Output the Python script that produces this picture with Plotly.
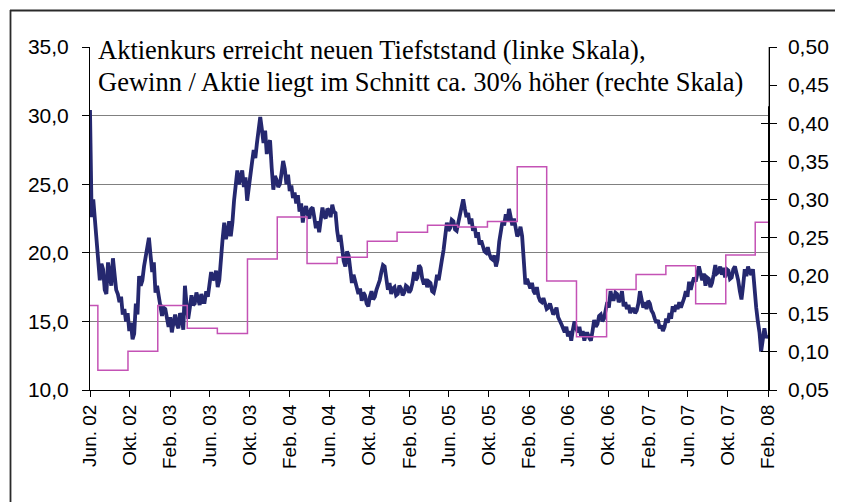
import plotly.graph_objects as go
import pandas as pd

# ---------------- data ----------------
# share price (left scale), every 5 days starting 2002-06-01
price_start = "2002-06-01"
price_step = "5D"
price_values = [
    30.4, 22.6, 23.9, 22.4, 21.0, 19.3, 18.0, 19.2, 18.8, 17.3,
    17.0, 19.3, 18.5, 17.6, 19.6, 18.3, 17.3, 17.0, 16.4, 16.8,
    15.5, 15.9, 15.0, 15.6, 14.3, 14.9, 13.7, 14.1, 16.3, 15.5,
    18.3, 17.6, 18.0, 19.0, 19.8, 20.3, 21.1, 19.8, 18.6, 19.3,
    17.1, 17.6, 16.6, 16.1, 15.4, 16.0, 15.9, 15.2, 14.6, 15.3,
    14.2, 14.9, 15.5, 14.8, 14.5, 15.6, 15.3, 14.4, 17.6, 16.2,
    15.2, 16.0, 16.9, 16.2, 16.3, 17.1, 16.6, 16.2, 17.0, 16.4,
    16.4, 17.2, 16.8, 17.6, 18.6, 18.0, 18.2, 18.7, 17.5, 18.0,
    19.8, 21.0, 22.2, 21.0, 21.5, 22.3, 21.2, 22.2, 23.8, 25.0,
    26.0, 25.0, 25.4, 26.0, 24.8, 25.5, 23.8, 24.9, 25.6, 26.6,
    27.5, 26.9, 28.0, 29.2, 29.9, 29.0, 28.0, 28.9, 27.2, 27.9,
    28.2, 26.2, 24.6, 25.6, 25.3, 24.8, 25.0, 25.8, 26.7, 26.1,
    25.0, 25.7, 24.5, 24.9, 24.0, 24.4, 23.6, 24.2, 23.0, 23.6,
    22.2, 23.1, 23.4, 22.8, 22.5, 23.2, 23.3, 22.6, 21.8, 22.3,
    21.5, 22.4, 23.3, 22.7, 22.5, 23.2, 23.1, 22.6, 23.5, 23.0,
    22.9, 21.6, 20.8, 21.3, 20.2, 19.4, 19.0, 20.1, 19.8, 18.7,
    17.8, 18.4, 18.0, 17.5, 17.0, 17.4, 16.5, 17.1, 16.9, 16.3,
    16.1, 16.8, 17.2, 16.6, 16.8, 17.3, 17.6, 18.0, 18.6, 19.1,
    19.0, 18.2, 17.3, 17.8, 17.0, 17.4, 17.5, 16.9, 17.0, 17.6,
    17.4, 16.9, 17.1, 17.6, 17.5, 17.1, 17.3, 17.8, 18.6, 18.0,
    18.2, 19.1, 18.9, 18.1, 17.7, 18.1, 17.5, 17.9, 17.8, 17.2,
    17.1, 17.6, 18.4, 18.0, 19.0, 19.5, 20.2, 21.0, 22.2, 21.6,
    21.8, 22.4, 22.3, 21.7, 21.6, 22.2, 22.9, 23.4, 23.9, 23.2,
    22.6, 22.9, 22.1, 22.5, 21.6, 21.9, 21.1, 21.5, 20.6, 20.9,
    20.4, 20.1, 20.0, 20.4, 19.9, 19.6, 19.5, 19.8, 19.0, 19.5,
    20.8, 21.5, 22.3, 22.0, 22.8, 22.3, 23.2, 22.6, 22.0, 22.5,
    21.8, 21.2, 21.4, 21.9, 21.2, 19.5, 17.7, 18.1, 17.6, 17.4,
    17.8, 17.2, 17.0, 17.5, 16.8, 16.5, 16.4, 16.7, 16.3, 15.9,
    16.0, 16.3, 15.9, 15.5, 15.7, 16.0, 15.3, 15.1, 14.8, 14.5,
    14.2, 14.6, 13.9, 14.3, 13.6, 14.4, 15.0, 14.5, 14.2, 14.6,
    13.9, 14.3, 13.6, 14.1, 14.1, 13.8, 13.6, 14.3, 15.1, 14.6,
    14.8, 15.4, 15.5, 15.0, 15.2, 15.8, 16.4, 16.0, 17.2, 16.6,
    16.6, 17.1, 17.0, 16.4, 16.7, 17.2, 16.1, 16.4, 15.9, 16.2,
    15.6, 15.9, 15.9, 15.6, 15.8, 16.3, 17.2, 16.6, 16.0, 16.4,
    15.9, 16.5, 16.3, 15.8, 15.6, 15.2, 14.9, 15.1, 14.5, 14.7,
    14.3, 14.6, 15.2, 14.9, 15.6, 15.2, 16.1, 15.7, 16.2, 15.9,
    16.4, 16.0, 16.3, 16.7, 17.2, 16.8, 17.9, 17.3, 17.8, 18.2,
    17.9, 18.4, 19.0, 18.5, 18.0, 18.5, 17.6, 18.2, 18.1, 17.5,
    17.8, 18.4, 19.1, 18.5, 18.6, 19.0, 18.4, 18.9, 18.2, 18.8,
    18.7, 18.1, 18.2, 18.8, 19.0, 18.5, 18.0, 17.2, 16.6, 17.6,
    18.8, 18.3, 19.0, 18.6, 18.4, 18.8, 17.0, 16.0, 15.0, 14.2,
    12.8, 13.5, 14.5, 13.8, 14.0,
]

# earnings per share (right scale), quarterly steps
eps_dates = [
    "2002-06-01", "2002-06-25", "2002-09-25", "2002-12-25", "2003-03-25",
    "2003-06-25", "2003-09-25", "2003-12-25", "2004-03-25", "2004-06-25",
    "2004-09-25", "2004-12-25", "2005-03-28", "2005-06-28", "2005-09-27",
    "2005-12-27", "2006-03-27", "2006-06-26", "2006-09-26", "2006-12-25",
    "2007-03-26", "2007-06-25", "2007-09-25", "2007-12-24", "2008-02-01",
]
eps_values = [
    0.161, 0.076, 0.101, 0.161, 0.131,
    0.124, 0.222, 0.277, 0.216, 0.224,
    0.245, 0.257, 0.266, 0.264, 0.271,
    0.343, 0.193, 0.120, 0.182, 0.2015,
    0.213, 0.163, 0.227, 0.270, 0.270,
]

tick_dates = [
    "2002-06-01", "2002-10-01", "2003-02-01", "2003-06-01", "2003-10-01",
    "2004-02-01", "2004-06-01", "2004-10-01", "2005-02-01", "2005-06-01",
    "2005-10-01", "2006-02-01", "2006-06-01", "2006-10-01", "2007-02-01",
    "2007-06-01", "2007-10-01", "2008-02-01",
]
tick_labels = [
    "Jun. 02", "Okt. 02", "Feb. 03", "Jun. 03", "Okt. 03", "Feb. 04",
    "Jun. 04", "Okt. 04", "Feb. 05", "Jun. 05", "Okt. 05", "Feb. 06",
    "Jun. 06", "Okt. 06", "Feb. 07", "Jun. 07", "Okt. 07", "Feb. 08",
]
left_ticks = [10, 15, 20, 25, 30, 35]
right_ticks = [0.05, 0.10, 0.15, 0.20, 0.25, 0.30, 0.35, 0.40, 0.45, 0.50]

title_lines = [
    "Aktienkurs erreicht neuen Tiefststand (linke Skala),",
    "Gewinn / Aktie liegt im Schnitt ca. 30% höher (rechte Skala)",
]

# ---------------- layout constants (page pixels) ----------------
W, H = 843, 502
OFF = 8                      # default body margin of the html page
L, R, T, B = 90, 768, 47, 390   # plot area on the page


def px(x):
    return (x - L) / (R - L)


def py(y):
    return (B - y) / (B - T)


price_dates = pd.date_range(price_start, periods=len(price_values), freq=price_step)

fig = go.Figure()
fig.add_trace(go.Scatter(
    x=eps_dates, y=eps_values, yaxis="y2", mode="lines",
    line=dict(color="#C452B5", width=1.5, shape="hv"),
    showlegend=False, hoverinfo="skip",
))
fig.add_trace(go.Scatter(
    x=price_dates, y=price_values, mode="lines",
    line=dict(color="#25286F", width=3.8),
    showlegend=False, hoverinfo="skip",
))

sans = "Liberation Sans, Arial, sans-serif"
tickfont = dict(family=sans, size=21, color="black")

fig.update_layout(
    width=W, height=H,
    margin=dict(l=L - OFF, r=W - (R - OFF), t=T - OFF, b=H - (B - OFF), pad=0, autoexpand=False),
    paper_bgcolor="white", plot_bgcolor="white",
    separators=",.",
    xaxis=dict(
        type="date", range=["2002-06-01", "2008-02-01"], automargin=False,
        tickmode="array", tickvals=tick_dates, ticktext=tick_labels,
        tickangle=-90, tickfont=dict(family=sans, size=19, color="black"),
        ticks="outside", ticklen=6, tickcolor="black", tickwidth=1,
        showline=True, linecolor="black", linewidth=1,
        showgrid=False, zeroline=False, ticklabelstandoff=0,
    ),
    yaxis=dict(
        range=[10, 35], tickmode="array", tickvals=left_ticks, tickformat=".1f",
        automargin=False,
        tickfont=tickfont, ticks="outside", ticklen=7, tickcolor="black",
        showline=True, linecolor="black", linewidth=1,
        showgrid=True, gridcolor="#808080", gridwidth=1.2, zeroline=False,
        ticklabelstandoff=9,
    ),
    yaxis2=dict(
        range=[0.05, 0.50], overlaying="y", side="right", automargin=False,
        tickmode="array", tickvals=right_ticks, tickformat=".2f",
        tickfont=tickfont, ticks="outside", ticklen=7, tickcolor="black",
        showline=True, linecolor="black", linewidth=1.5,
        showgrid=False, zeroline=False, ticklabelstandoff=7,
    ),
    yaxis3=dict(
        range=[0.05, 0.50], overlaying="y", side="right", automargin=False,
        tickmode="array", tickvals=right_ticks, showticklabels=False,
        ticks="inside", ticklen=7, tickcolor="black",
        showline=False, showgrid=False, zeroline=False,
    ),
)

# invisible trace to activate yaxis3 (cross ticks on the right scale)
fig.add_trace(go.Scatter(x=[eps_dates[0]], y=[eps_values[0]], yaxis="y3",
                         mode="markers", marker=dict(opacity=0),
                         showlegend=False, hoverinfo="skip"))

shapes = [
    # frame of the slide box
    dict(type="line", xref="paper", yref="paper", x0=px(10), x1=px(W + 10), y0=py(10.5), y1=py(10.5),
         line=dict(color="#2A2A2A", width=1.8)),
    dict(type="line", xref="paper", yref="paper", x0=px(10.5), x1=px(10.5), y0=py(10), y1=py(H + 10),
         line=dict(color="#2A2A2A", width=1.8)),
    # white text box covering the top of the plot area
    dict(type="rect", xref="paper", yref="y", x0=0.003, x1=1.001, y0=30.68, y1=35.4,
         fillcolor="white", line=dict(width=0), layer="above"),
]
fig.update_layout(shapes=shapes)

serif = dict(family="Liberation Serif, Times New Roman, serif", size=26.5, color="black")
for line_text, line_y in zip(title_lines, [50, 82]):
    fig.add_annotation(
        xref="paper", yref="paper", x=px(96), y=py(line_y), xanchor="left", yanchor="middle",
        text=line_text, showarrow=False, align="left", font=serif,
    )

fig.write_html("out.html")
